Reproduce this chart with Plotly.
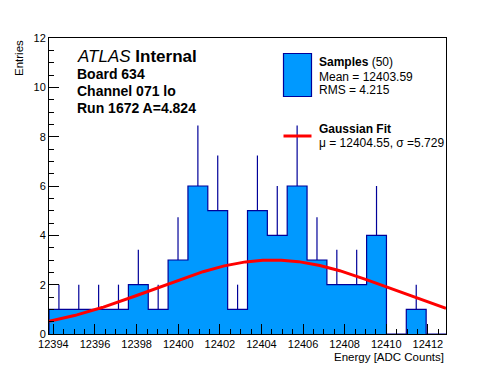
import numpy as np
import plotly.graph_objects as go

# ---- data ----
x_min = 12393.79
x_max = 12412.87
counts = [1, 1, 1, 1, 2, 1, 3, 6, 5, 1, 5, 4, 6, 3, 2, 2, 4, 0, 1, 0]
fit_mu = 12404.55
fit_sigma = 5.729
fit_amp = 3.0
x_tick_vals = list(range(12394, 12413, 2))
y_tick_vals = list(range(0, 13, 2))
info_lines = ["Board 634", "Channel 071 lo", "Run 1672 A=4.824"]
legend_samples = ["Mean = 12403.59", "RMS = 4.215"]
legend_fit = "\u03bc = 12404.55, \u03c3 =5.729"

# page body has an 8px margin: size the figure so it fits the window
OFF = 8
W, H = 496 - OFF, 372 - OFF
ML, MT = 49 - OFF, 38 - OFF
MR = W - (446 - OFF)
MB = H - (334 - OFF)
PW, PH = W - ML - MR, H - MT - MB
FONT = "Liberation Sans, Arial, Helvetica, sans-serif"
FILL = "#0099ff"
EDGE = "#000099"


def px(x):
    return (x - OFF - ML) / PW


def py(y):
    return (H - MB - (y - OFF)) / PH


nb = len(counts)
bw = (x_max - x_min) / nb
edges = [x_min + i * bw for i in range(nb + 1)]
centers = [x_min + (i + 0.5) * bw for i in range(nb)]

step_x = [edges[0]] + edges + [edges[-1]]
step_y = [0] + counts + [counts[-1], 0]

fig = go.Figure()
fig.add_trace(go.Scatter(
    x=step_x, y=step_y, mode="lines", line_shape="hv",
    line=dict(color=EDGE, width=1.2), fill="tozeroy", fillcolor=FILL,
    showlegend=False, hoverinfo="skip"))

errs = [float(np.sqrt(c)) for c in counts]
fig.add_trace(go.Scatter(
    x=centers, y=counts, mode="markers", marker=dict(size=0.1, color=EDGE),
    error_y=dict(type="data", array=errs, arrayminus=[0] * nb, symmetric=False,
                 width=0, thickness=1.2, color=EDGE),
    showlegend=False, hoverinfo="skip"))

fx = np.linspace(x_min, x_max, 300)
fy = fit_amp * np.exp(-0.5 * ((fx - fit_mu) / fit_sigma) ** 2)
fig.add_trace(go.Scatter(x=fx, y=fy, mode="lines",
                         line=dict(color="#ff0000", width=3),
                         showlegend=False, hoverinfo="skip"))

axis_common = dict(showline=True, linecolor="black", linewidth=1, mirror=True,
                   ticks="inside", ticklen=10, tickcolor="black", tickwidth=1,
                   showgrid=False, zeroline=False, automargin=False,
                   tickfont=dict(family=FONT, size=11, color="black"))

fig.update_xaxes(range=[x_min, x_max], tickvals=x_tick_vals,
                 ticktext=[str(v) for v in x_tick_vals],
                 minor=dict(dtick=0.5, tick0=12394, ticks="inside", ticklen=5,
                            tickcolor="black"),
                 **axis_common)
fig.update_yaxes(range=[0, 12], tickvals=y_tick_vals,
                 minor=dict(dtick=0.5, ticks="inside", ticklen=5, tickcolor="black"),
                 **axis_common)

ann = []
ann.append(dict(x=px(446), y=py(357), xref="paper", yref="paper", xanchor="right",
                yanchor="middle", text="Energy [ADC Counts]", showarrow=False,
                font=dict(family=FONT, size=11.5, color="black")))
ann.append(dict(x=px(19), y=py(38), xref="paper", yref="paper", xanchor="center",
                yanchor="top", text="Entries", textangle=-90, showarrow=False,
                font=dict(family=FONT, size=11.5, color="black")))
ann.append(dict(x=px(75), y=py(57), xref="paper", yref="paper", xanchor="left",
                yanchor="middle", text="<i>ATLAS</i> <b>Internal</b>", showarrow=False,
                font=dict(family=FONT, size=17, color="black")))
for i, t in enumerate(info_lines):
    ann.append(dict(x=px(75), y=py(74 + 17 * i), xref="paper", yref="paper",
                    xanchor="left", yanchor="middle", text="<b>%s</b>" % t,
                    showarrow=False, font=dict(family=FONT, size=14, color="black")))

ann.append(dict(x=px(317), y=py(61.5), xref="paper", yref="paper", xanchor="left",
                yanchor="middle", text="<b>Samples</b> (50)", showarrow=False,
                font=dict(family=FONT, size=12, color="black")))
for i, t in enumerate(legend_samples):
    ann.append(dict(x=px(317), y=py(76.5 + 13.5 * i), xref="paper", yref="paper",
                    xanchor="left", yanchor="middle", text=t, showarrow=False,
                    font=dict(family=FONT, size=12, color="black")))
ann.append(dict(x=px(317), y=py(129), xref="paper", yref="paper", xanchor="left",
                yanchor="middle", text="<b>Gaussian Fit</b>", showarrow=False,
                font=dict(family=FONT, size=12, color="black")))
ann.append(dict(x=px(317), y=py(143), xref="paper", yref="paper", xanchor="left",
                yanchor="middle", text=legend_fit, showarrow=False,
                font=dict(family=FONT, size=12, color="black")))

shapes = [
    dict(type="rect", xref="paper", yref="paper", x0=px(283.5), x1=px(311.5),
         y0=py(96.5), y1=py(53.5), fillcolor=FILL, line=dict(color=EDGE, width=1.2)),
    dict(type="line", xref="paper", yref="paper", x0=px(283.5), x1=px(311.5),
         y0=py(136), y1=py(136), line=dict(color="#ff0000", width=3)),
]

fig.update_layout(width=W, height=H, margin=dict(l=ML, r=MR, t=MT, b=MB),
                  paper_bgcolor="white", plot_bgcolor="white",
                  annotations=ann, shapes=shapes, showlegend=False,
                  font=dict(family=FONT, color="black"))

fig.write_html("out.html")
